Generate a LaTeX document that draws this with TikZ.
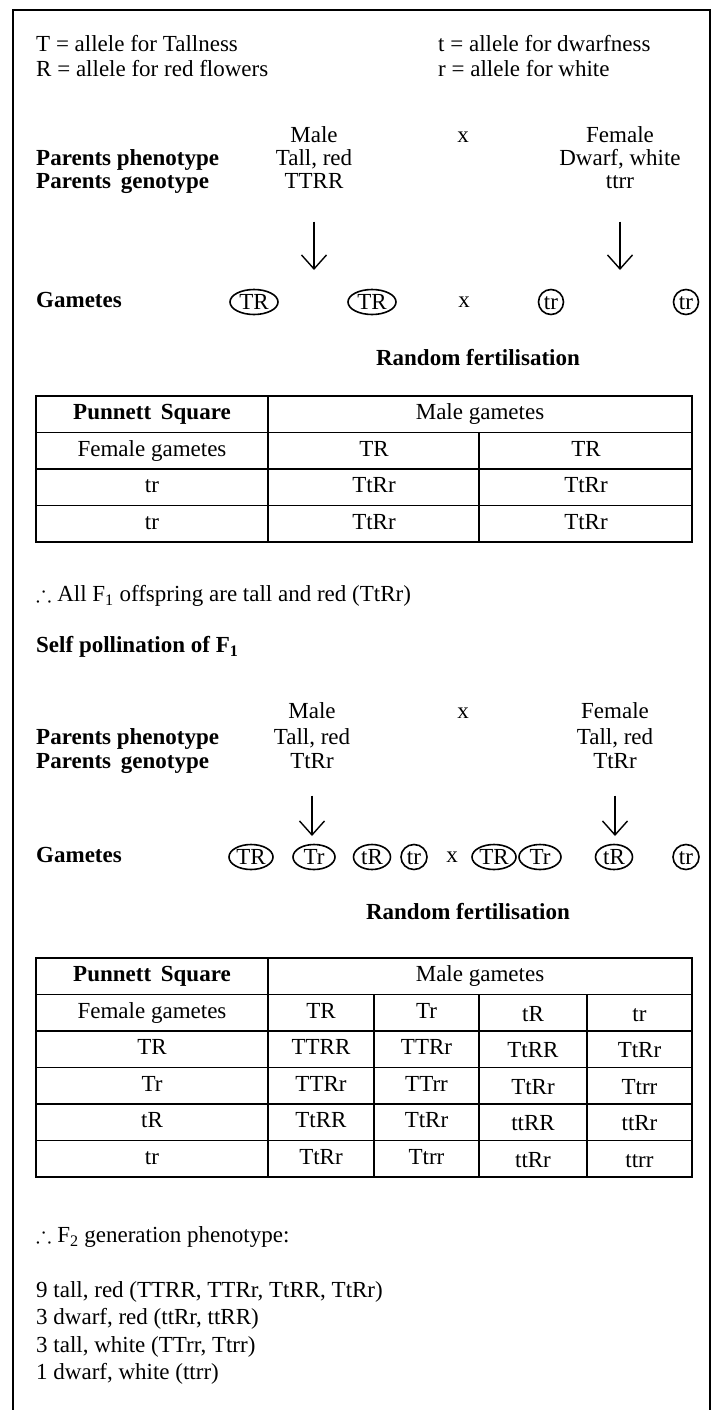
\documentclass[tikz,border=0pt]{standalone}
\usepackage{amssymb}
\usepackage{fontspec}
\setmainfont{Liberation Serif}
\usetikzlibrary{arrows.meta}
\usetikzlibrary{positioning}
\usetikzlibrary{shapes.geometric}

\begin{document}
\begin{tikzpicture}
        [x=1pt, y=-1pt,
         every node/.style={inner sep=0pt, text height=16pt, text depth=5pt,
                            font=\fontsize{23}{27}\selectfont},
         txt/.style={anchor=west},
         hdr/.style={font=\fontsize{23}{27}\selectfont\bfseries},
         gam/.style={ellipse, draw, line width=1.6pt, inner xsep=-2pt,
                     text height=14pt, text depth=0pt,
                     minimum height=25pt, minimum width=#1},
         gam/.default=25pt,
         down/.style={-{Straight Barb[length=14pt,width=25pt]}, line width=1.4pt},
         grid/.style={line width=1.4pt}]
        \useasboundingbox (0,0) rectangle (716,1410);
        \draw [line width=2pt] (13,1410) -- (13,10) -- (710,10) -- (710,1410);

        \node [txt] (tall) at (36,46) {T = allele for Tallness};
        \node [txt] (red) at (36,71) {R = allele for red flowers};
        \node [txt] (dwarf) at (438,46) {t = allele for dwarfness};
        \node [txt] (white) at (438,71) {r = allele for white};

        \node (male1) at (314,137) {Male};
        \node (cross1) at (463,137) {x};
        \node (female1) at (620,137) {Female};
        \node [txt, hdr] (pheno1) at (36,160) {Parents phenotype};
        \node (mpheno1) at (314,160) {Tall, red};
        \node (fpheno1) at (620,160) {Dwarf, white};
        \node [txt, hdr] (geno1) at (36,183) {Parents\hspace{4pt} genotype};
        \node (mgeno1) at (314,183) {TTRR};
        \node (fgeno1) at (620,183) {ttrr};
        \coordinate (mend1) at (314,270);
        \coordinate (fend1) at (620,270);
        \draw [down, shorten <=28pt] (mgeno1) -- (mend1);
        \draw [down, shorten <=28pt] (fgeno1) -- (fend1);

        \node [txt, hdr] (gametes1) at (36,302) {Gametes};
        \node [gam=48pt] (ga1) at (254,302) {TR};
        \node [gam=48pt] (ga2) at (372,302) {TR};
        \node (cross2) at (464,302) {x};
        \node [gam] (ga3) at (551,302) {tr};
        \node [gam] (ga4) at (686,302) {tr};
        \node [hdr] (random1) at (478,360) {Random fertilisation};

        \draw [grid] (36,396) rectangle (692,542);
        \foreach \y in {432.5,469,505.5}
            \draw [grid] (36,\y) -- (692,\y);
        \draw [grid] (268,396) -- (268,542);
        \draw [grid] (479,432.5) -- (479,542);
        \node [hdr] (punnett1) at (152,414.25) {Punnett\hspace{4pt} Square};
        \node (malegam1) at (480,414.25) {Male gametes};
        \node (femgam1) at (152,450.75) {Female gametes};
        \node (mg1a) at (374,450.75) {TR};
        \node (mg1b) at (586,450.75) {TR};
        \foreach \y [count=\i] in {487.25,523.75} {
            \node (fg1\i) at (152,\y) {tr};
            \node (off1\i a) at (374,\y) {TtRr};
            \node (off1\i b) at (586,\y) {TtRr};
        }

        \node [txt] (allf1) at (36,596) {$\therefore$ All F\textsubscript{1} offspring are tall and red (TtRr)};
        \node [txt, hdr] (self) at (36,647) {Self pollination of F\textsubscript{1}};

        \node (male2) at (312,713) {Male};
        \node (cross3) at (463,713) {x};
        \node (female2) at (615,713) {Female};
        \node [txt, hdr] (pheno2) at (36,739) {Parents phenotype};
        \node (mpheno2) at (312,739) {Tall, red};
        \node (fpheno2) at (615,739) {Tall, red};
        \node [txt, hdr] (geno2) at (36,763) {Parents\hspace{4pt} genotype};
        \node (mgeno2) at (312,763) {TtRr};
        \node (fgeno2) at (615,763) {TtRr};
        \coordinate (mend2) at (312,836);
        \coordinate (fend2) at (615,836);
        \draw [down, shorten <=22pt] (mgeno2) -- (mend2);
        \draw [down, shorten <=22pt] (fgeno2) -- (fend2);

        \node [txt, hdr] (gametes2) at (36,857) {Gametes};
        \node [gam=44pt] (gb1) at (251,857) {TR};
        \node [gam=42pt] (gb2) at (314,857) {Tr};
        \node [gam=37pt] (gb3) at (372,857) {tR};
        \node [gam=26pt] (gb4) at (414,857) {tr};
        \node (cross4) at (452,857) {x};
        \node [gam=44pt] (gb5) at (494,857) {TR};
        \node [gam=42pt] (gb6) at (540,857) {Tr};
        \node [gam=37pt] (gb7) at (614,857) {tR};
        \node [gam=26pt] (gb8) at (686,857) {tr};
        \node [hdr] (random2) at (468,914) {Random fertilisation};

        \draw [grid] (36,958) rectangle (692,1177);
        \foreach \y in {994.5,1031,1067.5,1104,1140.5}
            \draw [grid] (36,\y) -- (692,\y);
        \draw [grid] (268,958) -- (268,1177);
        \foreach \x in {374,479,587}
            \draw [grid] (\x,994.5) -- (\x,1177);
        \node [hdr] (punnett2) at (152,976.25) {Punnett\hspace{4pt} Square};
        \node (malegam2) at (480,976.25) {Male gametes};
        \node (femgam2) at (152,1012.75) {Female gametes};
        \node (mg2a) at (321,1012.75) {TR};
        \node (mg2b) at (426.5,1012.75) {Tr};
        \node (mg2c) at (533,1015.75) {tR};
        \node (mg2d) at (639.5,1015.75) {tr};
        \foreach \f/\a/\b/\c/\d [count=\i] in {TR/TTRR/TTRr/TtRR/TtRr,
                Tr/TTRr/TTrr/TtRr/Ttrr, tR/TtRR/TtRr/ttRR/ttRr,
                tr/TtRr/Ttrr/ttRr/ttrr} {
            \pgfmathsetmacro\yy{1012.75+36.5*\i}
            \node (fg2\i) at (152,\yy) {\f};
            \node (off2\i a) at (321,\yy) {\a};
            \node (off2\i b) at (426.5,\yy) {\b};
            \node (off2\i c) at (533,\yy+3) {\c};
            \node (off2\i d) at (639.5,\yy+3) {\d};
        }

        \node [txt] (allf2) at (36,1237) {$\therefore$ F\textsubscript{2} generation phenotype:};
        \node [txt] (ratio9) at (36,1292) {9 tall, red (TTRR, TTRr, TtRR, TtRr)};
        \node [below=6pt of ratio9.south west, anchor=north west] (ratio3a) {3 dwarf, red (ttRr, ttRR)};
        \node [below=6pt of ratio3a.south west, anchor=north west] (ratio3b) {3 tall, white (TTrr, Ttrr)};
        \node [below=6pt of ratio3b.south west, anchor=north west] (ratio1) {1 dwarf, white (ttrr)};
    \end{tikzpicture}
\end{document}
